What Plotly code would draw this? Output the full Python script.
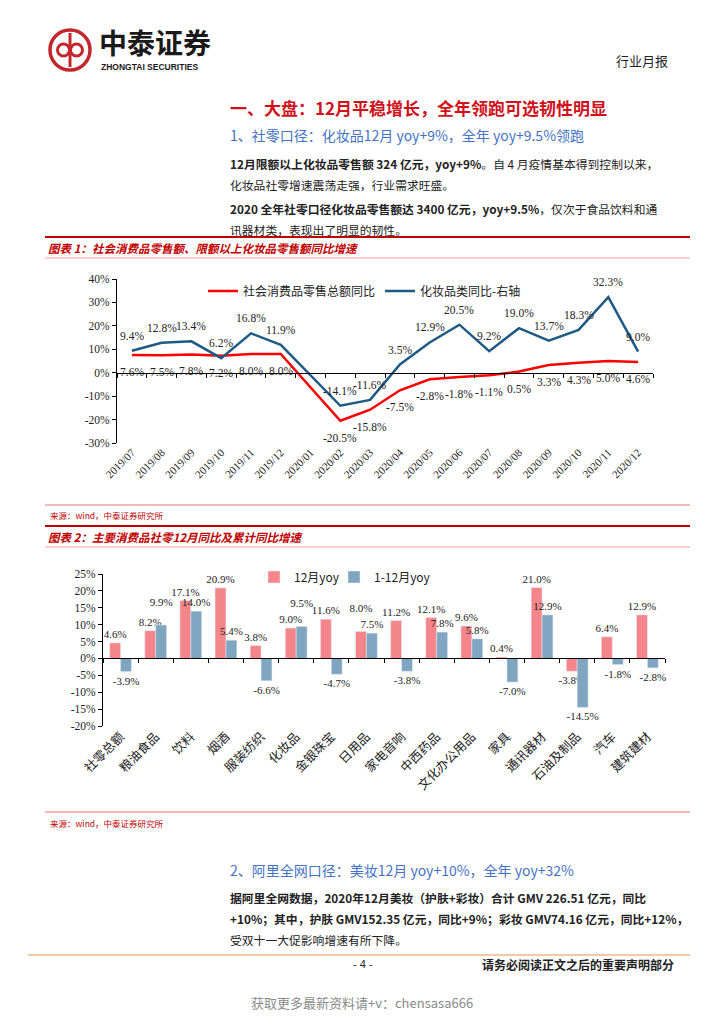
import plotly.graph_objects as go

W, H = 724, 1024
def px(p): return p / W
def py(p): return 1 - p / H

# ---------------- Chart 1 data ----------------
months = ["2019/07", "2019/08", "2019/09", "2019/10", "2019/11", "2019/12",
          "2020/01", "2020/02", "2020/03", "2020/04", "2020/05", "2020/06",
          "2020/07", "2020/08", "2020/09", "2020/10", "2020/11", "2020/12"]
retail_yoy = [7.6, 7.5, 7.8, 7.2, 8.0, 8.0, None, -20.5, -15.8, -7.5, -2.8, -1.8,
              -1.1, 0.5, 3.3, 4.3, 5.0, 4.6]
cosmetics_yoy = [9.4, 12.8, 13.4, 6.2, 16.8, 11.9, None, -14.1, -11.6, 3.5, 12.9, 20.5,
                 9.2, 19.0, 13.7, 18.3, 32.3, 9.0]
c1_ticks = [-30, -20, -10, 0, 10, 20, 30, 40]
c1_ticktext = ["-30%", "-20%", "-10%", "0%", "10%", "20%", "30%", "40%"]

# ---------------- Chart 2 data ----------------
categories = ["社零总额", "粮油食品", "饮料", "烟酒", "服装纺织", "化妆品", "金银珠宝", "日用品",
              "家电音响", "中西药品", "文化办公用品", "家具", "通讯器材", "石油及制品", "汽车", "建筑建材"]
dec_yoy = [4.6, 8.2, 17.1, 20.9, 3.8, 9.0, 11.6, 8.0, 11.2, 12.1, 9.6, 0.4, 21.0, -3.8, 6.4, 12.9]
ytd_yoy = [-3.9, 9.9, 14.0, 5.4, -6.6, 9.5, -4.7, 7.5, -3.8, 7.8, 5.8, -7.0, 12.9, -14.5, -1.8, -2.8]
c2_ticks = [-20, -15, -10, -5, 0, 5, 10, 15, 20, 25]
c2_ticktext = ["-20%", "-15%", "-10%", "-5%", "0%", "5%", "10%", "15%", "20%", "25%"]

SERIF = "Liberation Serif, Noto Sans CJK SC"
CJK = "Noto Sans CJK SC"
RED_LINE = "#FF0000"
BLUE_LINE = "#1F5A85"
BAR_RED = "#F4858A"
BAR_BLUE = "#7FA5C0"

# bar labels: when the two positive values are close, lift the higher one by a line
def bar_labels(own, other):
    out = []
    for a, b in zip(own, other):
        lift = a > 0 and b > 0 and abs(a - b) < 2.5 and a > b
        out.append(f"{a:.1f}%" + ("<br> " if lift else ""))
    return out

fig = go.Figure()

# chart 1 traces
fig.add_trace(go.Scatter(
    x=months, y=retail_yoy, mode="lines", name="社会消费品零售总额同比",
    line=dict(color=RED_LINE, width=2.5), connectgaps=True,
    xaxis="x", yaxis="y", legend="legend"))
fig.add_trace(go.Scatter(
    x=months, y=cosmetics_yoy, mode="lines", name="化妆品类同比-右轴",
    line=dict(color=BLUE_LINE, width=2.5), connectgaps=True,
    xaxis="x", yaxis="y", legend="legend"))
# helper trace for zero-line axis with boundary ticks (chart 1)
fig.add_trace(go.Scatter(x=[-0.5, len(months) - 0.5], y=[None, None], mode="lines",
                         showlegend=False, hoverinfo="skip", xaxis="x3", yaxis="y"))

# chart 2 traces
fig.add_trace(go.Bar(
    x=categories, y=dec_yoy, name="12月yoy", marker=dict(color=BAR_RED),
    text=bar_labels(dec_yoy, ytd_yoy), textposition="outside", constraintext="none",
    textfont=dict(family=SERIF, size=11, color="#222"),
    xaxis="x2", yaxis="y2", legend="legend2", cliponaxis=False))
fig.add_trace(go.Bar(
    x=categories, y=ytd_yoy, name="1-12月yoy", marker=dict(color=BAR_BLUE),
    text=bar_labels(ytd_yoy, dec_yoy), textposition="outside", constraintext="none",
    textfont=dict(family=SERIF, size=11, color="#222"),
    xaxis="x2", yaxis="y2", legend="legend3", cliponaxis=False))
fig.add_trace(go.Scatter(x=[-0.5, len(categories) - 0.5], y=[None, None], mode="lines",
                         showlegend=False, hoverinfo="skip", xaxis="x4", yaxis="y2"))

# domains
c1_x = [px(117), px(653)]
c1_y = [py(443), py(279)]
c2_x = [px(103), px(665)]
c2_y = [py(726), py(574)]
c1_zero = c1_y[0] + (0 - (-30)) / 70 * (c1_y[1] - c1_y[0])
c2_zero = c2_y[0] + (0 - (-20)) / 45 * (c2_y[1] - c2_y[0])

axis_font = dict(family=SERIF, size=11.5, color="#222")
leg_common = dict(orientation="h", xanchor="left", yanchor="middle", bgcolor="rgba(0,0,0,0)",
                  font=dict(family=CJK, size=12, color="#222"), itemwidth=30)

fig.update_layout(
    width=W, height=H, margin=dict(l=0, r=0, t=0, b=0), autosize=False,
    paper_bgcolor="white", plot_bgcolor="rgba(0,0,0,0)",
    showlegend=True, bargap=0.38, bargroupgap=0,
    xaxis=dict(domain=c1_x, anchor="y", type="category", showline=False, ticks="",
               showgrid=False, zeroline=False, tickangle=-45, tickfont=dict(family=SERIF, size=11, color="#222"),
               automargin=False, range=[-0.5, len(months) - 0.5]),
    xaxis3=dict(overlaying="x", anchor="free", position=c1_zero, range=[-0.5, len(months) - 0.5],
                showline=True, linecolor="black", linewidth=1, ticks="outside", ticklen=4,
                tickcolor="black", tick0=-0.5, dtick=1, showticklabels=False, showgrid=False,
                zeroline=False, automargin=False),
    yaxis=dict(domain=c1_y, anchor="x", range=[-30, 40], tickvals=c1_ticks, ticktext=c1_ticktext,
               showline=True, linecolor="black", linewidth=1, ticks="outside", ticklen=4,
               tickcolor="black", showgrid=False, zeroline=False, tickfont=axis_font, automargin=False),
    xaxis2=dict(domain=c2_x, anchor="y2", type="category", showline=False, ticks="",
                showgrid=False, zeroline=False, tickangle=-45,
                tickfont=dict(family=CJK, size=12.5, color="#222"), automargin=False,
                range=[-0.5, len(categories) - 0.5]),
    xaxis4=dict(overlaying="x2", anchor="free", position=c2_zero, range=[-0.5, len(categories) - 0.5],
                showline=True, linecolor="black", linewidth=1, ticks="outside", ticklen=4,
                tickcolor="black", tick0=-0.5, dtick=1, showticklabels=False, showgrid=False,
                zeroline=False, automargin=False),
    yaxis2=dict(domain=c2_y, anchor="x2", range=[-20, 25], tickvals=c2_ticks, ticktext=c2_ticktext,
                showline=True, linecolor="black", linewidth=1, ticks="outside", ticklen=4,
                tickcolor="black", showgrid=False, zeroline=False, tickfont=axis_font, automargin=False),
    legend=dict(x=px(203), y=py(291), tracegroupgap=0, **leg_common),
    legend2=dict(x=px(254), y=py(577), **leg_common),
    legend3=dict(x=px(334), y=py(577), **leg_common),
)

# ---------------- page decorations ----------------
shapes = []
def hline(y, x0, x1, color, width):
    shapes.append(dict(type="line", xref="paper", yref="paper", x0=px(x0), x1=px(x1),
                       y0=py(y), y1=py(y), line=dict(color=color, width=width)))

hline(237, 45, 690, "#C00000", 2)
hline(258, 45, 690, "#F2A0A0", 1)
hline(505, 45, 690, "#E57373", 1)
hline(526, 45, 690, "#C00000", 2)
hline(547, 45, 690, "#F2A0A0", 1)
hline(812, 45, 690, "#E57373", 1)
hline(955, 28, 690, "#F4C7A8", 2)

# logo (circle emblem)
cx, cy, r = 70, 50, 20
shapes.append(dict(type="circle", xref="paper", yref="paper",
                   x0=px(cx - r), x1=px(cx + r), y0=py(cy + r), y1=py(cy - r),
                   line=dict(color="#C1272D", width=3.5)))
for dx in (-6.5, 6.5):
    shapes.append(dict(type="circle", xref="paper", yref="paper",
                       x0=px(cx + dx - 6), x1=px(cx + dx + 6), y0=py(cy + 6), y1=py(cy - 6),
                       line=dict(color="#C1272D", width=3)))
shapes.append(dict(type="line", xref="paper", yref="paper", x0=px(cx), x1=px(cx),
                   y0=py(cy - 17), y1=py(cy + 17), line=dict(color="#C1272D", width=3)))
fig.update_layout(shapes=shapes)

ann = []
# data labels for chart 1 (anchored to the data points)
for m, v in zip(months, retail_yoy):
    if v is not None:
        ann.append(dict(xref="x", yref="y", x=m, y=v, text=f"{v:.1f}%", showarrow=False,
                        yshift=-17, font=dict(family=SERIF, size=11.5, color="#222")))
for m, v in zip(months, cosmetics_yoy):
    if v is not None:
        ann.append(dict(xref="x", yref="y", x=m, y=v, text=f"{v:.1f}%", showarrow=False,
                        yshift=15, font=dict(family=SERIF, size=11.5, color="#222")))

def text(x, y, s, size, color="#222", family=CJK, anchor="left"):
    ann.append(dict(xref="paper", yref="paper", x=px(x), y=py(y), text=s, showarrow=False,
                    xanchor=anchor, yanchor="middle", font=dict(family=family, size=size, color=color)))

text(97, 42, "<b>中泰证券</b>", 28, "#1a1a1a")
text(99, 67, "<b>ZHONGTAI SECURITIES</b>", 8.5, "#1a1a1a", "Liberation Sans")
text(670, 60, "行业月报", 13, "#222", anchor="right")
text(228, 107, "<b>一、大盘：12月平稳增长，全年领跑可选韧性明显</b>", 17, "#D0101B")
text(228, 135, "1、社零口径：化妆品12月 yoy+9%，全年 yoy+9.5%领跑", 14, "#4472C4")
text(228, 163, "<b>12月限额以上化妆品零售额 324 亿元，yoy+9%</b>。自 4 月疫情基本得到控制以来，", 11.8)
text(228, 184, "化妆品社零增速震荡走强，行业需求旺盛。", 11.8)
text(228, 208, "<b>2020 全年社零口径化妆品零售额达 3400 亿元，yoy+9.5%</b>，仅次于食品饮料和通", 11.8)
text(228, 229, "讯器材类，表现出了明显的韧性。", 11.8)
text(46, 248, "<b><i>图表 1：社会消费品零售额、限额以上化妆品零售额同比增速</i></b>", 11.5, "#C00000")
text(48, 515, "来源：wind，中泰证券研究所", 8.5, "#C00000")
text(46, 537, "<b><i>图表 2：主要消费品社零12月同比及累计同比增速</i></b>", 11.5, "#C00000")
text(48, 823, "来源：wind，中泰证券研究所", 8.5, "#C00000")
text(228, 870, "2、阿里全网口径：美妆12月 yoy+10%，全年 yoy+32%", 14, "#4472C4")
text(228, 897, "<b>据阿里全网数据，2020年12月美妆（护肤+彩妆）合计 GMV 226.51 亿元，同比</b>", 11.8)
text(228, 918, "<b>+10%；其中，护肤 GMV152.35 亿元，同比+9%；彩妆 GMV74.16 亿元，同比+12%，</b>", 11.8)
text(228, 939, "受双十一大促影响增速有所下降。", 11.8)
text(363, 964, "- 4 -", 11, "#222", "Liberation Sans", anchor="center")
text(676, 964, "<b>请务必阅读正文之后的重要声明部分</b>", 12, "#222", anchor="right")
text(362, 1002, "获取更多最新资料请+v：chensasa666", 13, "#8a8a8a", anchor="center")
fig.update_layout(annotations=ann)

fig.write_html("out.html", config={"displayModeBar": False},
               post_script="document.body.style.margin='0';document.body.style.overflow='hidden';")
